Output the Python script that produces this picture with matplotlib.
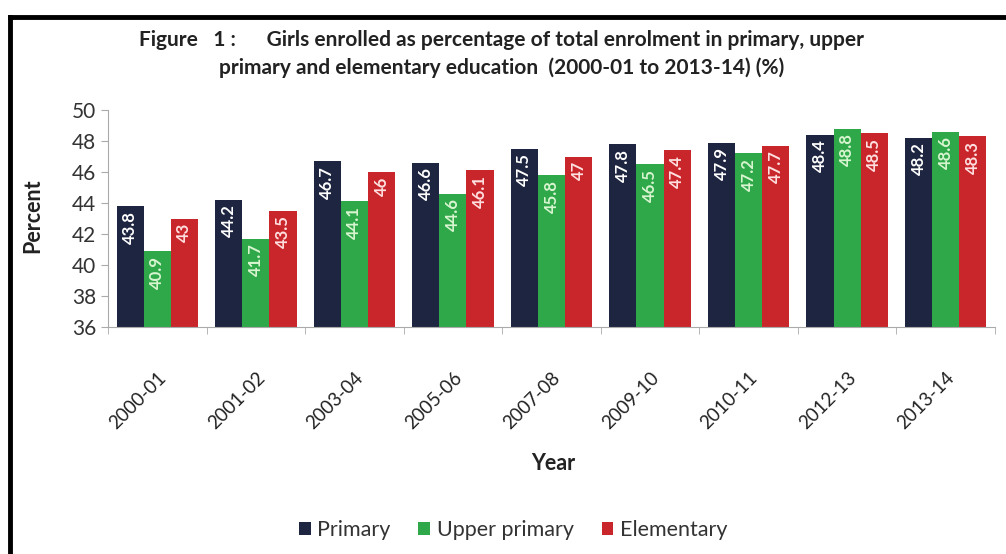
import matplotlib.pyplot as plt
import numpy as np

plt.rcParams['font.family'] = ['Lato', 'DejaVu Sans']

years = ['2000-01', '2001-02', '2003-04', '2005-06', '2007-08',
         '2009-10', '2010-11', '2012-13', '2013-14']
primary = [43.8, 44.2, 46.7, 46.6, 47.5, 47.8, 47.9, 48.4, 48.2]
upper_primary = [40.9, 41.7, 44.1, 44.6, 45.8, 46.5, 47.2, 48.8, 48.6]
elementary = [43, 43.5, 46, 46.1, 47, 47.4, 47.7, 48.5, 48.3]

series = [
    ('Primary', primary, '#1e2540', 'white'),
    ('Upper primary', upper_primary, '#2fa84a', '#d8f5d0'),
    ('Elementary', elementary, '#c9262c', '#ffe0e0'),
]

fig = plt.figure(figsize=(10.06, 5.54), dpi=100)
ax = fig.add_axes([0.1074, 0.4097, 0.8816, 0.3917])

x = np.arange(len(years))
w = 0.275
for i, (name, vals, col, tcol) in enumerate(series):
    pos = x + (i - 1) * w
    bars = ax.bar(pos, vals, width=w, color=col, label=name)
    for b, v in zip(bars, vals):
        ax.text(b.get_x() + b.get_width() / 2, v - 0.3, f'{v:g}',
                rotation=90, ha='center', va='top', color=tcol,
                fontsize=12, fontweight='bold')

ax.set_ylim(36, 50)
ax.set_yticks(range(36, 51, 2))
ax.set_xlim(-0.5, len(years) - 0.5)
ax.set_xticks(x)
ax.set_xticklabels(years, rotation=45, ha='right', rotation_mode='anchor',
                   fontsize=13.5, color='#222222')
ax.set_xticks(np.arange(-0.5, len(years), 1), minor=True)
ax.tick_params(axis='x', which='major', length=0, pad=30)
ax.tick_params(axis='x', which='minor', length=5, color='#aaaaaa')
ax.tick_params(axis='y', labelsize=15, length=5, color='#aaaaaa',
               labelcolor='#333333')
for s in ['top', 'right']:
    ax.spines[s].set_visible(False)
for s in ['left', 'bottom']:
    ax.spines[s].set_color('#aaaaaa')

fig.text(0.033, 0.61, 'Percent', rotation=90, ha='center', va='center',
         fontsize=15.5, fontweight='bold', color='#222222')
fig.text(0.55, 0.163, 'Year', ha='center', va='center',
         fontsize=15.5, fontweight='bold', color='#222222')

fig.text(0.499, 0.928, 'Figure   1 :      Girls enrolled as percentage of total enrolment in primary, upper',
         ha='center', va='center', fontsize=15, fontweight='bold', color='#222222')
fig.text(0.499, 0.877, 'primary and elementary education  (2000-01 to 2013-14) (%)',
         ha='center', va='center', fontsize=15, fontweight='bold', color='#222222')

leg = fig.legend(loc='center', bbox_to_anchor=(0.51, 0.043), ncol=3,
                 frameon=False, fontsize=15.5, handlelength=0.55,
                 handleheight=0.55, columnspacing=1.3, handletextpad=0.3)
for t in leg.get_texts():
    t.set_color('#333333')

# black frame lines at top and left edge
fig.add_artist(plt.Line2D([0.0095, 1.0], [0.97, 0.97], color='black',
                          lw=3.5, transform=fig.transFigure))
fig.add_artist(plt.Line2D([0.0095, 0.0095], [0.0, 0.97], color='black',
                          lw=3.5, transform=fig.transFigure))

fig.savefig('out.png', dpi=100)
